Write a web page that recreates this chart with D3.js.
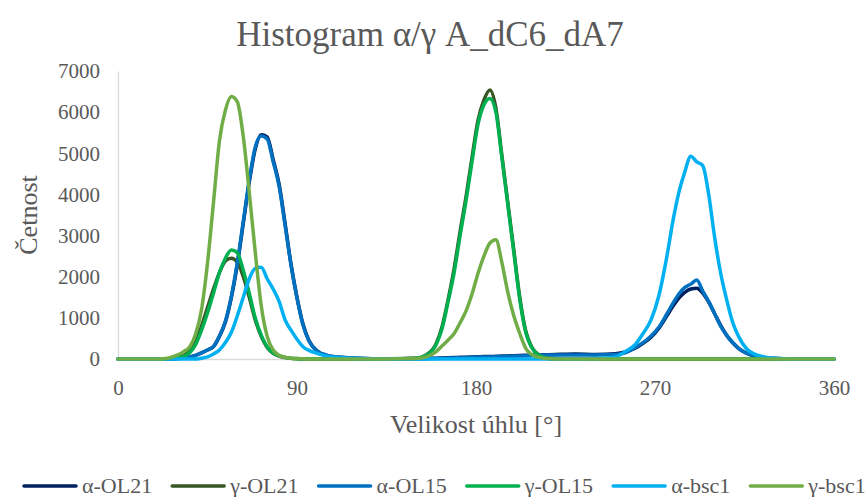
<!DOCTYPE html>
<html><head><meta charset="utf-8">
<script src="https://cdn.jsdelivr.net/npm/d3@7"></script>
<style>
body{margin:0;background:#fff;}
</style></head>
<body><svg id="c" width="865" height="497"></svg>
<script>
const title = "Histogram α/γ A_dC6_dA7";
const xLabel = "Velikost úhlu [°]";
const yLabel = "Četnost";
const xTicks = [0, 90, 180, 270, 360];
const yTicks = [0, 1000, 2000, 3000, 4000, 5000, 6000, 7000];

const angles = [0,10,20,25,30,33,36,39,42,45,48,51,54,57,60,63,66,69,72,75,78,81,84,87,90,93,96,100,105,110,120,135,
  150,155,160,163,166,169,172,175,178,181,184,187,190,193,196,199,202,205,208,212,216,220,
  230,240,250,255,260,264,268,272,276,279,282,285,288,291,294,297,300,303,306,309,312,316,320,325,330,340,350,360];

const seriesNames = ["α-OL21","γ-OL21","α-OL15","γ-OL15","α-bsc1","γ-bsc1"];
const seriesColors = ["#002060","#375623","#0070C0","#00B050","#00B0F0","#70AD47"];

const aOL21 = [0,0,0,0,10,25,50,90,150,220,300,550,900,1500,2300,3300,4300,5100,5450,5400,4850,4250,3300,2300,1500,850,450,200,90,50,20,5,
  10,15,20,25,30,35,40,45,50,55,60,60,65,70,75,80,85,90,95,100,105,110,
  120,110,130,170,260,380,530,750,1050,1280,1480,1620,1700,1720,1600,1380,1100,820,580,400,260,140,70,30,10,0,0,0];
const gOL21 = [0,0,0,5,40,80,190,420,800,1250,1700,2100,2380,2450,2350,2000,1500,950,550,280,140,70,35,15,5,0,0,0,0,0,0,0,
  20,100,380,800,1450,2200,3100,3950,4900,5800,6300,6540,6100,4950,3800,2650,1500,680,290,85,20,0,
  0,0,0,0,0,0,0,0,0,0,0,0,0,0,0,0,0,0,0,0,0,0,0,0,0,0,0,0];
const aOL15 = [0,0,0,0,10,25,50,90,150,220,300,560,920,1520,2350,3350,4350,5150,5420,5350,4800,4200,3250,2280,1480,830,440,200,90,50,20,5,
  5,10,15,20,22,25,30,35,40,45,50,50,55,60,65,70,75,80,85,90,95,100,
  100,100,110,150,280,400,560,780,1100,1350,1580,1740,1820,1920,1650,1400,1100,800,580,400,260,140,70,30,10,0,0,0];
const gOL15 = [0,0,0,5,30,60,150,350,700,1120,1600,2100,2450,2650,2580,2150,1600,1000,580,300,150,80,40,20,10,0,0,0,0,0,0,0,
  20,90,350,750,1400,2100,3000,3850,4800,5700,6180,6330,6000,4900,3750,2600,1450,650,280,80,20,0,
  0,0,0,0,0,0,0,0,0,0,0,0,0,0,0,0,0,0,0,0,0,0,0,0,0,0,0,0];
const aBsc1 = [0,0,0,0,0,0,0,0,20,50,120,220,400,650,1050,1500,1950,2200,2230,1950,1700,1400,950,700,480,300,210,140,70,40,10,0,
  0,0,0,0,0,0,0,0,0,0,0,0,0,0,0,0,0,0,0,0,0,0,
  0,10,50,180,350,620,950,1550,2500,3350,4050,4550,4930,4790,4700,4000,2950,2090,1450,900,550,250,120,50,20,0,0,0];
const gBsc1 = [0,0,0,20,100,180,290,600,1200,2330,3800,5300,6050,6380,6250,5400,4050,2600,1300,550,220,90,40,20,10,5,0,0,0,0,0,0,
  10,50,180,320,460,620,880,1170,1580,2080,2500,2820,2900,2350,1620,1050,620,260,110,40,10,0,
  0,0,0,0,0,0,0,0,0,0,0,0,0,0,0,0,0,0,0,0,0,0,0,0,0,0,0,0];

const seriesValues = [aOL21, gOL21, aOL15, gOL15, aBsc1, gBsc1];

const FONT = "'Liberation Serif', 'Tinos', 'Times New Roman', 'DejaVu Serif', 'Noto Serif', serif";
const TXT = "#595959";

const svg = d3.select("#c");
const x = d3.scaleLinear().domain([0, 360]).range([118, 834]);
const y = d3.scaleLinear().domain([0, 7000]).range([359, 71]);

// title
svg.append("text").attr("x", 430).attr("y", 46).attr("text-anchor", "middle")
  .attr("font-family", FONT).attr("fill", TXT).attr("font-size", 35).text(title);

// axes
const yAxis = svg.append("g").attr("transform", "translate(118,0)")
  .call(d3.axisLeft(y).tickValues(yTicks).tickSize(0).tickPadding(18).tickFormat(d3.format("d")));
yAxis.attr("font-family", FONT).attr("font-size", 21);
yAxis.select(".domain").attr("stroke", "#d9d9d9").attr("stroke-width", 1.3);
yAxis.selectAll("text").attr("fill", TXT);

const xAxis = svg.append("g").attr("transform", "translate(0,359)")
  .call(d3.axisBottom(x).tickValues(xTicks).tickSize(0).tickPadding(21).tickFormat(d3.format("d")));
xAxis.attr("font-family", FONT).attr("font-size", 21);
xAxis.select(".domain").attr("stroke", "#d9d9d9").attr("stroke-width", 1.3);
xAxis.selectAll("text").attr("fill", TXT);

// axis titles
svg.append("text").attr("x", 476).attr("y", 433).attr("text-anchor", "middle")
  .attr("font-family", FONT).attr("fill", TXT).attr("font-size", 26).text(xLabel);
svg.append("text").attr("transform", "translate(37,215) rotate(-90)").attr("text-anchor", "middle")
  .attr("font-family", FONT).attr("fill", TXT).attr("font-size", 26).text(yLabel);

// lines
const line = d3.line().x((d, i) => x(angles[i])).y(d => y(d)).curve(d3.curveMonotoneX);
seriesValues.forEach((vals, k) => {
  svg.append("path").datum(vals).attr("d", line)
    .attr("fill", "none").attr("stroke", seriesColors[k]).attr("stroke-width", 3.5)
    .attr("stroke-linejoin", "round").attr("stroke-linecap", "round");
});

// legend
const leg = svg.append("g");
let lx = 24;
const ly = 486;
seriesNames.forEach((name, k) => {
  leg.append("line").attr("x1", lx).attr("x2", lx + 52).attr("y1", ly).attr("y2", ly)
    .attr("stroke", seriesColors[k]).attr("stroke-width", 3.5).attr("stroke-linecap", "round");
  const t = leg.append("text").attr("x", lx + 58).attr("y", ly + 7)
    .attr("font-family", FONT).attr("fill", TXT).attr("font-size", 22).text(name);
  lx += 58 + t.node().getComputedTextLength() + 20;
});
</script></body></html>
